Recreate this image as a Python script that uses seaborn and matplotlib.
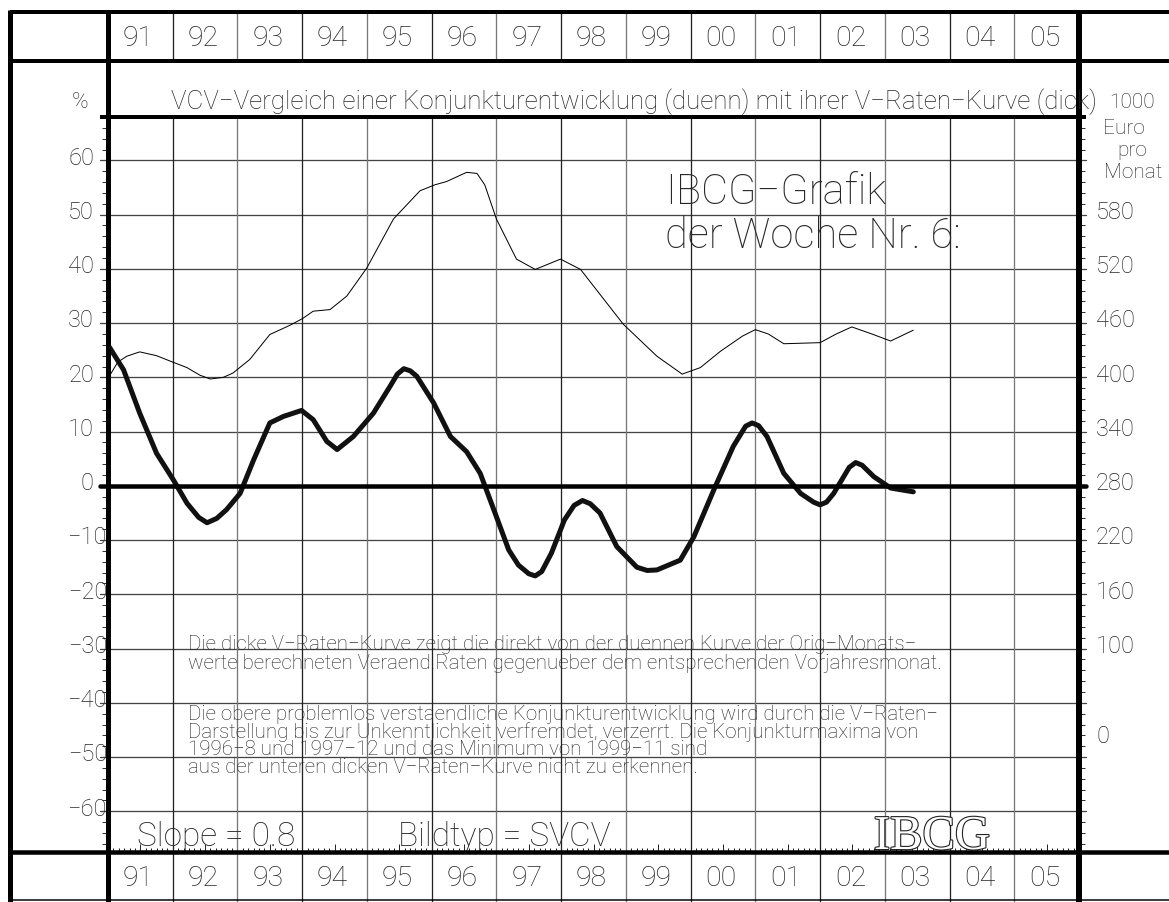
import numpy as np
import pandas as pd
import seaborn as sns
import matplotlib.pyplot as plt
import matplotlib.transforms as mtransforms
import matplotlib.patheffects as pe
from matplotlib.lines import Line2D

# data (x = decimal year, y = percent)
thin_x = [1991.02, 1991.15, 1991.29, 1991.49, 1991.75, 1991.96, 1992.22, 1992.42, 1992.58, 1992.78,
          1992.93, 1993.19, 1993.5, 1993.81, 1994.0, 1994.17, 1994.43, 1994.69, 1995.0, 1995.41,
          1995.82, 1996.05, 1996.23, 1996.54, 1996.7, 1996.82, 1997.0, 1997.31, 1997.6, 1997.99,
          1998.3, 1998.96, 1999.48, 1999.87, 2000.15, 2000.46, 2000.8, 2001.0, 2001.2, 2001.44,
          2002.0, 2002.25, 2002.49, 2002.8, 2003.09, 2003.44]
thin_y = [20.2, 22.8, 23.9, 24.7, 24.0, 23.0, 21.8, 20.4, 19.7, 20.0,
          20.8, 23.3, 27.9, 29.6, 30.8, 32.2, 32.5, 35.0, 40.2, 49.2,
          54.4, 55.5, 56.1, 57.8, 57.6, 55.5, 49.2, 41.8, 39.9, 41.8,
          39.9, 29.8, 23.9, 20.6, 21.8, 24.8, 27.6, 28.8, 28.0, 26.2,
          26.4, 28.0, 29.3, 28.0, 26.7, 28.7]

thick_x = [1991.02, 1991.24, 1991.49, 1991.75, 1992.01, 1992.22, 1992.4, 1992.53, 1992.68, 1992.83,
           1993.04, 1993.25, 1993.5, 1993.71, 1993.99, 1994.17, 1994.38, 1994.54, 1994.79, 1995.1,
           1995.36, 1995.47, 1995.57, 1995.67, 1995.77, 1996.03, 1996.29, 1996.54, 1996.75, 1996.96,
           1997.19, 1997.34, 1997.5, 1997.6, 1997.7, 1997.85, 1998.05, 1998.2, 1998.33, 1998.45,
           1998.6, 1998.86, 1999.17, 1999.33, 1999.48, 1999.84, 2000.05, 2000.36, 2000.66, 2000.85,
           2000.95, 2001.05, 2001.18, 2001.44, 2001.7, 2001.9, 2002.0, 2002.1, 2002.21, 2002.45,
           2002.55, 2002.65, 2002.83, 2003.09, 2003.44]
thick_y = [25.6, 21.4, 13.4, 6.0, 1.1, -3.2, -5.8, -6.8, -6.0, -4.4,
           -1.4, 4.8, 11.6, 12.8, 13.9, 12.2, 8.2, 6.7, 9.1, 13.4,
           18.4, 20.6, 21.6, 21.2, 20.2, 15.3, 9.1, 6.3, 2.3, -4.4,
           -11.8, -14.6, -16.2, -16.6, -15.8, -12.4, -6.3, -3.6, -2.7, -3.3,
           -5.0, -11.2, -15.0, -15.6, -15.5, -13.7, -9.4, -0.7, 7.3, 11.0,
           11.6, 11.1, 9.1, 2.3, -1.4, -3.0, -3.5, -3.0, -1.4, 3.4,
           4.3, 3.8, 1.7, -0.4, -1.1]

years = list(range(1991, 2006))
year_labels = ['91', '92', '93', '94', '95', '96', '97', '98', '99',
               '00', '01', '02', '03', '04', '05']
pct_ticks = [60, 50, 40, 30, 20, 10, 0, -10, -20, -30, -40, -50, -60]
euro_ticks = [580, 520, 460, 400, 340, 280, 220, 160, 100, 0]

title = 'VCV\u2212Vergleich einer Konjunkturentwicklung (duenn) mit ihrer V\u2212Raten\u2212Kurve (dick)'
para1 = ['Die dicke V\u2212Raten\u2212Kurve zeigt die direkt von der duennen Kurve der Orig\u2212Monats\u2212',
         'werte berechneten Veraend.Raten gegenueber dem entsprechenden Vorjahresmonat.']
para2 = ['Die obere problemlos verstaendliche Konjunkturentwicklung wird durch die V\u2212Raten\u2212',
         'Darstellung bis zur Unkenntlichkeit verfremdet, verzerrt. Die Konjunkturmaxima von',
         '1996\u22128 und 1997\u221212 und das Minimum von 1999\u221211 sind',
         'aus der unteren dicken V\u2212Raten\u2212Kurve nicht zu erkennen.']

sns.set_style('white')
plt.rcParams['font.family'] = ['Roboto', 'DejaVu Sans']
plt.rcParams['font.weight'] = 'light'

W, H = 1169, 903
fig = plt.figure(figsize=(W / 100, H / 100), dpi=100)
# pixel coordinates (origin top left)
pix = mtransforms.Affine2D().scale(1 / W, -1 / H).translate(0, 1) + fig.transFigure

ax_l, ax_r, ax_t, ax_b = 108, 1079, 118, 853
ax = fig.add_axes([ax_l / W, 1 - ax_b / H, (ax_r - ax_l) / W, (ax_b - ax_t) / H])
ax.set_xlim(1991, 2006)
ax.set_ylim(-67.5, 68.0)
for s in ax.spines.values():
    s.set_visible(False)

px = 0.72  # points per pixel
xpix_ydata = mtransforms.blended_transform_factory(pix, ax.transData)
xdata_ypix = mtransforms.blended_transform_factory(ax.transData, pix)

# grid
for v in pct_ticks:
    if v == 0:
        continue
    ax.add_line(Line2D([100, 1086], [v, v], transform=xpix_ydata, color='#444444',
                       lw=1.3 * px, clip_on=False, zorder=1))
for i, yr in enumerate(years[1:]):
    c = '#222222' if i % 2 == 0 else '#777777'
    ax.axvline(yr, color=c, lw=1.3 * px, zorder=1)
    for y0, y1 in [(13, 62), (853, 903)]:
        fig.add_artist(Line2D([yr, yr], [y0, y1], transform=xdata_ypix, color=c, lw=1.3 * px))

# curves
sns.lineplot(x=thin_x, y=thin_y, ax=ax, color='black', lw=1.0 * px, sort=False,
             estimator=None, zorder=3)
sns.lineplot(x=thick_x, y=thick_y, ax=ax, color='#111111', lw=5 * px, sort=False,
             estimator=None, zorder=4, solid_joinstyle='round', solid_capstyle='round')

ax.add_line(Line2D([100, 1086], [0, 0], transform=xpix_ydata, color='black',
                   lw=4.5 * px, clip_on=False, zorder=5))

# ticks
ax.set_yticks(pct_ticks)
ax.set_yticks(np.arange(-66, 68, 2), minor=True)
ax.set_xticks([y + 0.5 for y in years])
ax.set_xticks(np.arange(1991, 2006, 1 / 12), minor=True)
ax.tick_params(axis='y', which='both', left=True, right=True, direction='out',
               labelleft=False, labelright=False)
ax.tick_params(axis='y', which='major', length=0)
ax.tick_params(axis='y', which='minor', length=4, width=1 * px, color='#333333')
ax.tick_params(axis='x', which='both', bottom=True, top=False, direction='in', labelbottom=False)
ax.tick_params(axis='x', which='major', length=6, width=1 * px)
ax.tick_params(axis='x', which='minor', length=3, width=1 * px)

# frame lines
frame = [([10, 1169], [13, 13], 4), ([10, 1169], [62, 62], 4), ([100, 1086], [118, 118], 4),
         ([10, 1169], [853, 853], 4.5), ([10, 1169], [901, 901], 1.5),
         ([10, 10], [11, 903], 5), ([108, 108], [11, 903], 5), ([1079, 1079], [11, 903], 6)]
for xs, ys, w in frame:
    fig.add_artist(Line2D(xs, ys, transform=pix, color='black', lw=w * px,
                          solid_capstyle='butt', zorder=10))

# year labels
for yr, lab in zip(years, year_labels):
    fig.text(yr + 0.47, 38, lab, transform=xdata_ypix, ha='center', va='center', fontsize=20.5)
    fig.text(yr + 0.47, 879, lab, transform=xdata_ypix, ha='center', va='center', fontsize=20.5)

# axis labels
for v in pct_ticks:
    xr = 94 if v >= 0 else 107
    ax.text(xr, v + 0.6, str(v).replace('-', '\u2212'), transform=xpix_ydata, ha='right',
            va='center', fontsize=17)
for e in euro_ticks:
    ax.text(1096, (e - 280) / 6 + 0.6, str(e), transform=xpix_ydata, ha='left',
            va='center', fontsize=17)

fig.text(80, 103, '%', transform=pix, ha='center', va='center', fontsize=16)
for t, xc, yc in [('1000', 1132, 103), ('Euro', 1124, 129), ('pro', 1132, 151), ('Monat', 1133, 172)]:
    fig.text(xc, yc, t, transform=pix, ha='center', va='center', fontsize=15)
fig.text(171, 102, title, transform=pix, ha='left', va='center', fontsize=18.6,
         zorder=12)

fig.text(665, 204, 'IBCG\u2212Grafik', transform=pix, ha='left', va='baseline', fontsize=30)
fig.text(665, 248, 'der Woche Nr. 6:', transform=pix, ha='left', va='baseline', fontsize=30)

# explanatory paragraphs, one text block each
fig.text(188, 654, '\n'.join(para1), transform=pix, ha='left', va='center',
         multialignment='left', fontsize=14.8, linespacing=0.95)
fig.text(188, 741, '\n'.join(para2), transform=pix, ha='left', va='center',
         multialignment='left', fontsize=14.8, linespacing=0.88)

fig.text(137, 846, 'Slope = 0.8', transform=pix, ha='left', va='baseline', fontsize=24)
fig.text(398, 846, 'Bildtyp = SVCV', transform=pix, ha='left', va='baseline', fontsize=24)
fig.text(932, 850, 'IBCG', transform=pix, ha='center', va='baseline', fontsize=35,
         family='Liberation Serif', color='white',
         path_effects=[pe.withStroke(linewidth=1.6, foreground='#222222')])

fig.savefig('out.png', dpi=100)
